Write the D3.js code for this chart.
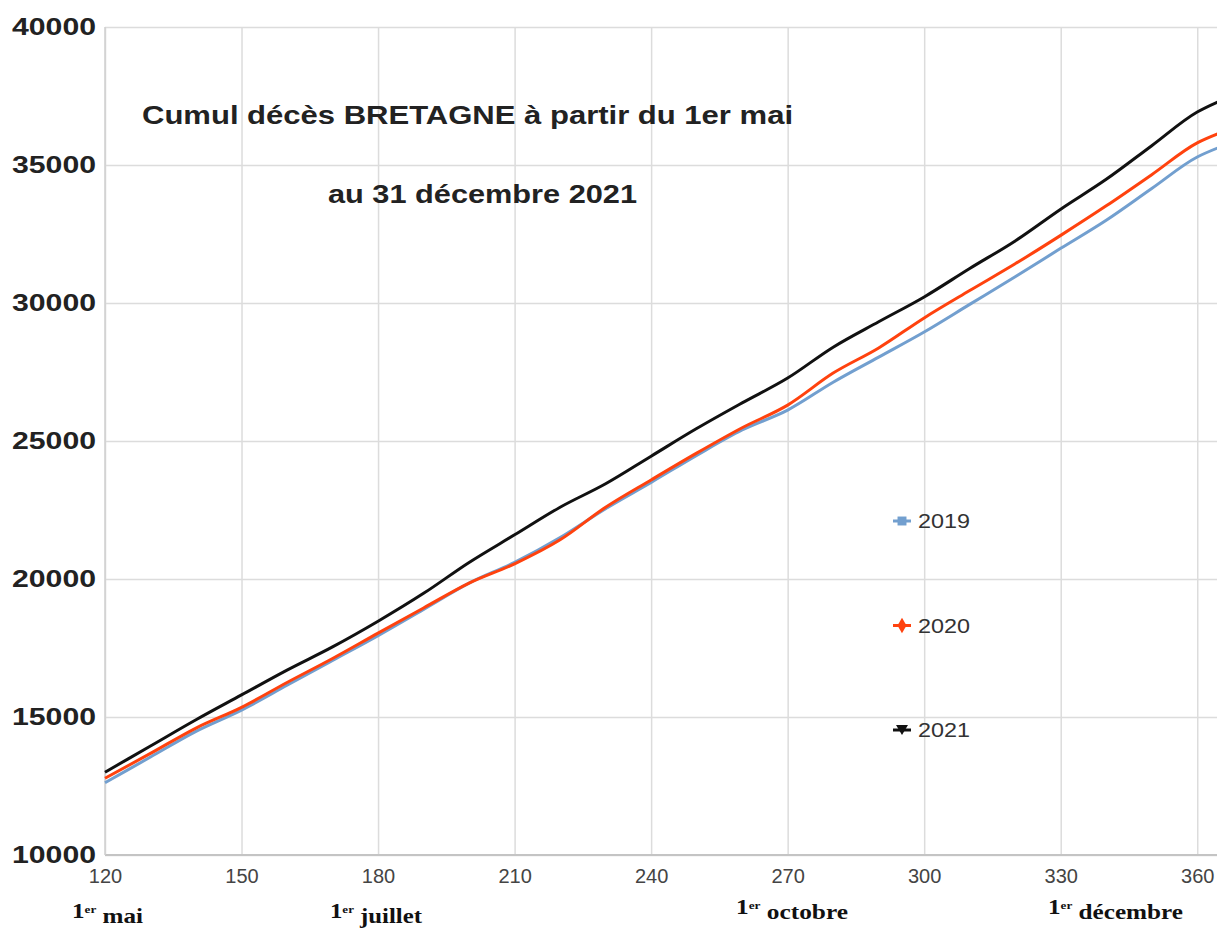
<!DOCTYPE html>
<html lang="fr">
  <head>
    <meta charset="UTF-8" />
    <title>Cumul décès BRETAGNE</title>
    <script src="https://d3js.org/d3.v7.min.js"></script>
    <style>
      body {
        margin: 0;
        background: #fff;
        overflow: hidden;
      }
      svg {
        display: block;
      }
    </style>
  </head>
  <body>
    <svg id="chart" width="1217" height="929"></svg>

    <script>
      // day of year (every 10 days from 1 May)
      const days = [120, 130, 140, 150, 160, 170, 180, 190, 200, 210, 220, 230, 240,
        250, 260, 270, 280, 290, 300, 310, 320, 330, 340, 350, 360, 365];

      // cumulative deaths
      const deaths2019 = [12620, 13550, 14480, 15250, 16150, 17050, 17950, 18900, 19850,
        20600, 21500, 22550, 23500, 24480, 25400, 26120, 27130, 28040, 28950, 29950,
        30950, 31980, 33000, 34150, 35290, 35650];
      const deaths2020 = [12780, 13680, 14600, 15350, 16250, 17120, 18040, 18950, 19850,
        20550, 21420, 22600, 23590, 24560, 25480, 26300, 27460, 28370, 29460, 30450,
        31420, 32450, 33520, 34650, 35800, 36160];
      const deaths2021 = [13000, 13950, 14900, 15800, 16700, 17540, 18470, 19480, 20600,
        21600, 22600, 23450, 24450, 25450, 26380, 27280, 28400, 29320, 30220, 31250,
        32250, 33400, 34480, 35700, 36920, 37320];

      const xTicks = [120, 150, 180, 210, 240, 270, 300, 330, 360];
      const yTicks = [10000, 15000, 20000, 25000, 30000, 35000, 40000];
      const monthLabels = [
        { day: 120, name: "mai" },
        { day: 180, name: "juillet" },
        { day: 270, name: "octobre" },
        { day: 330, name: "décembre" },
      ];
      const titleLines = ["Cumul décès BRETAGNE à partir du 1er mai", "au 31 décembre 2021"];

      const series = [
        { name: "2019", values: deaths2019, color: "#729fcf", symbol: d3.symbolSquare },
        { name: "2020", values: deaths2020, color: "#ff420e", symbol: d3.symbolDiamond },
        { name: "2021", values: deaths2021, color: "#111111", symbol: "triangleDown" },
      ];

      const plotLeft = 105, plotRight = 1220, plotTop = 27, plotBottom = 855;

      const x = d3.scaleLinear().domain([120, 365]).range([plotLeft, plotRight]);
      const y = d3.scaleLinear().domain([10000, 40000]).range([plotBottom, plotTop]);

      const svg = d3.select("#chart");

      // grid + x axis
      const xAxis = svg.append("g")
        .attr("transform", `translate(0,${plotBottom})`)
        .call(d3.axisBottom(x).tickValues(xTicks).tickSizeInner(-(plotBottom - plotTop)).tickSizeOuter(0).tickPadding(14));
      xAxis.select(".domain").remove();
      xAxis.selectAll("line").attr("stroke", "#dcdcdc").attr("stroke-width", 1.5);
      xAxis.selectAll("text")
        .attr("fill", "#444")
        .style("font", "20px 'Liberation Sans', Arial, sans-serif");

      // grid + y axis
      const yAxis = svg.append("g")
        .attr("transform", `translate(${plotLeft},0)`)
        .call(d3.axisLeft(y).tickValues(yTicks).tickFormat(d3.format("d"))
          .tickSizeInner(-(plotRight - plotLeft)).tickSizeOuter(0).tickPadding(9));
      yAxis.select(".domain").remove();
      yAxis.selectAll("line").attr("stroke", "#dcdcdc").attr("stroke-width", 1.5);
      yAxis.selectAll("text")
        .attr("fill", "#222")
        .attr("textLength", 84)
        .attr("lengthAdjust", "spacingAndGlyphs")
        .style("font", "bold 24px 'Liberation Sans', Arial, sans-serif");

      // frame lines
      svg.append("line")
        .attr("x1", plotLeft).attr("x2", plotRight).attr("y1", plotBottom).attr("y2", plotBottom)
        .attr("stroke", "#c4c4c4").attr("stroke-width", 2);
      svg.append("line")
        .attr("x1", plotLeft).attr("x2", plotLeft).attr("y1", plotTop).attr("y2", plotBottom)
        .attr("stroke", "#d0d0d0").attr("stroke-width", 1.5);

      // title
      svg.append("text")
        .attr("x", 142).attr("y", 124)
        .attr("textLength", 651).attr("lengthAdjust", "spacingAndGlyphs")
        .attr("fill", "#222")
        .style("font", "bold 25px 'Liberation Sans', Arial, sans-serif")
        .text(titleLines[0]);
      svg.append("text")
        .attr("x", 328).attr("y", 203)
        .attr("textLength", 309).attr("lengthAdjust", "spacingAndGlyphs")
        .attr("fill", "#222")
        .style("font", "bold 25px 'Liberation Sans', Arial, sans-serif")
        .text(titleLines[1]);

      // lines
      const line = d3.line()
        .x((d, i) => x(days[i]))
        .y((d) => y(d))
        .curve(d3.curveMonotoneX);

      svg.append("g")
        .selectAll("path")
        .data(series)
        .join("path")
        .attr("d", (d) => line(d.values))
        .attr("fill", "none")
        .attr("stroke", (d) => d.color)
        .attr("stroke-width", 3)
        .attr("stroke-linejoin", "round");

      // legend
      const legendY = d3.scaleLinear().domain([0, 2]).range([521, 730]);
      const legend = svg.append("g")
        .selectAll("g")
        .data(series)
        .join("g")
        .attr("transform", (d, i) => `translate(902,${legendY(i)})`);
      legend.append("line")
        .attr("x1", -9).attr("x2", 9)
        .attr("stroke", (d) => d.color).attr("stroke-width", 3);
      legend.append("path")
        .attr("d", (d) => d.symbol === "triangleDown"
          ? "M-6,-5L6,-5L0,5Z"
          : d3.symbol().type(d.symbol).size(d.symbol === d3.symbolDiamond ? 70 : 80)())
        .attr("fill", (d) => d.color);
      legend.append("text")
        .attr("x", 16).attr("dy", "0.36em")
        .attr("textLength", 52).attr("lengthAdjust", "spacingAndGlyphs")
        .attr("fill", "#333")
        .style("font", "20px 'Liberation Sans', Arial, sans-serif")
        .text((d) => d.name);

      // month labels under the axis
      const monthPos = { 120: [72, 918, 71], 180: [330, 918, 92], 270: [736, 914, 112], 330: [1048, 914, 135] };
      const months = svg.append("g")
        .selectAll("text")
        .data(monthLabels)
        .join("text")
        .attr("x", (d) => monthPos[d.day][0])
        .attr("y", (d) => monthPos[d.day][1])
        .attr("textLength", (d) => monthPos[d.day][2])
        .attr("lengthAdjust", "spacingAndGlyphs")
        .attr("fill", "#111")
        .style("font", "bold 21px 'Liberation Serif', 'Times New Roman', serif");
      months.append("tspan").text("1");
      months.append("tspan")
        .attr("dy", "-0.5em")
        .style("font-size", "11px")
        .text("er");
      months.append("tspan")
        .attr("dy", "0.5em")
        .text((d) => "\u00a0" + d.name);
    </script>
  </body>
</html>
